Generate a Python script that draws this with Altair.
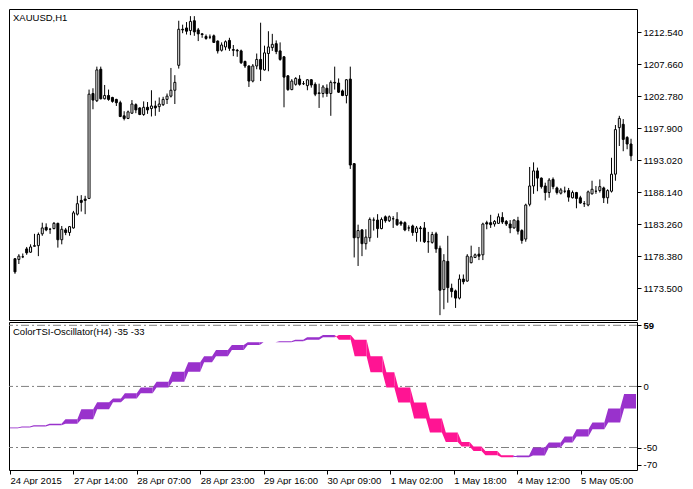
import json
import altair as alt
import pandas as pd

# ---------------- data ----------------
# H1 candles, bar index 0..158 (open, high, low, close)
opens = [1178.0, 1177.9, 1178.3, 1179.5, 1179.0, 1179.9, 1180.0, 1181.8, 1182.8, 1182.5,
         1182.6, 1183.4, 1180.9, 1182.4, 1182.0, 1182.7, 1184.8, 1186.9, 1187.1, 1187.2,
         1203.2, 1202.1, 1206.9, 1202.4, 1202.9, 1202.6, 1202.3, 1201.8, 1199.8, 1199.4,
         1200.2, 1201.5, 1201.0, 1200.0, 1201.1, 1200.9, 1201.3, 1201.2, 1201.5, 1202.3,
         1202.8, 1203.7, 1207.5, 1213.0, 1213.2, 1212.8, 1214.3, 1212.9, 1212.3, 1211.9,
         1211.8, 1212.0, 1211.2, 1209.8, 1210.3, 1211.3, 1209.9, 1209.8, 1209.7, 1208.1,
         1207.4, 1205.1, 1207.4, 1208.4, 1206.8, 1209.3, 1210.2, 1210.8, 1209.7, 1208.8,
         1205.9, 1203.8, 1204.6, 1205.4, 1204.7, 1204.4, 1205.3, 1204.6, 1203.3, 1203.2,
         1204.0, 1203.2, 1204.9, 1204.8, 1203.6, 1202.9, 1205.4, 1192.5, 1181.2, 1182.4,
         1180.3, 1181.2, 1183.9, 1183.9, 1182.6, 1184.4, 1183.8, 1184.1, 1184.0, 1183.6,
         1183.5, 1182.7, 1183.0, 1182.0, 1182.7, 1182.7, 1180.6, 1180.5, 1181.8, 1179.6,
         1173.3, 1177.6, 1173.5, 1173.1, 1172.0, 1174.9, 1174.6, 1177.4, 1178.2, 1178.7,
         1178.6, 1183.5, 1183.5, 1183.3, 1183.4, 1184.3, 1183.7, 1183.3, 1182.7, 1183.8,
         1182.3, 1181.0, 1186.3, 1189.1, 1191.4, 1190.3, 1189.1, 1188.1, 1190.1, 1188.8,
         1188.0, 1188.3, 1188.4, 1187.3, 1188.1, 1187.3, 1186.4, 1186.2, 1187.9, 1188.3,
         1188.4, 1188.8, 1187.3, 1188.3, 1190.9, 1198.0, 1198.5, 1196.5, 1195.5]
highs = [1178.1, 1178.7, 1178.8, 1179.8, 1180.2, 1181.8, 1182.0, 1183.5, 1183.4, 1182.7,
         1183.6, 1183.5, 1183.0, 1182.7, 1183.0, 1185.3, 1187.6, 1187.7, 1187.6, 1203.8,
         1204.0, 1207.3, 1207.3, 1204.5, 1203.8, 1202.7, 1202.4, 1202.1, 1200.5, 1200.6,
         1202.2, 1201.7, 1201.1, 1202.0, 1201.9, 1203.7, 1202.1, 1202.6, 1202.7, 1203.2,
         1207.1, 1206.0, 1214.3, 1213.7, 1214.1, 1215.0, 1215.0, 1213.2, 1212.4, 1212.2,
         1212.2, 1212.2, 1211.3, 1211.0, 1211.3, 1211.7, 1210.6, 1210.0, 1209.9, 1208.2,
         1207.5, 1207.7, 1209.3, 1214.0, 1210.5, 1212.7, 1212.3, 1211.3, 1211.0, 1208.9,
         1206.0, 1205.4, 1205.7, 1206.0, 1205.1, 1205.4, 1205.4, 1204.9, 1204.7, 1204.5,
         1204.6, 1205.2, 1207.3, 1205.5, 1203.8, 1205.4, 1207.3, 1192.6, 1183.2, 1182.5,
         1182.5, 1184.3, 1184.3, 1184.8, 1184.3, 1184.6, 1184.6, 1184.5, 1185.1, 1183.8,
         1183.7, 1183.1, 1183.2, 1183.0, 1183.0, 1183.6, 1182.1, 1182.1, 1182.1, 1180.0,
         1178.7, 1181.5, 1174.2, 1173.3, 1175.6, 1175.6, 1178.7, 1180.0, 1178.8, 1179.8,
         1183.5, 1183.8, 1184.7, 1183.9, 1184.9, 1185.1, 1183.9, 1183.9, 1184.0, 1184.4,
         1182.5, 1186.4, 1192.0, 1192.7, 1191.9, 1190.4, 1189.6, 1190.3, 1190.4, 1189.0,
         1188.8, 1189.0, 1188.8, 1188.4, 1188.2, 1187.6, 1186.8, 1188.4, 1189.9, 1189.1,
         1190.1, 1189.0, 1188.6, 1193.4, 1198.4, 1199.8, 1199.3, 1196.7, 1196.3]
lows = [1175.7, 1177.2, 1178.1, 1178.6, 1178.9, 1179.9, 1178.4, 1181.5, 1182.2, 1181.8,
        1182.5, 1179.7, 1180.2, 1181.6, 1181.5, 1182.6, 1184.6, 1185.2, 1184.8, 1187.1,
        1200.8, 1201.9, 1202.3, 1202.3, 1202.1, 1201.8, 1201.3, 1199.6, 1199.1, 1199.3,
        1200.1, 1200.2, 1199.9, 1199.8, 1200.1, 1199.7, 1199.8, 1200.4, 1201.3, 1201.6,
        1202.6, 1201.6, 1207.0, 1212.4, 1212.2, 1212.1, 1212.0, 1211.2, 1211.7, 1211.4,
        1211.5, 1210.9, 1209.3, 1209.6, 1209.8, 1209.7, 1208.9, 1208.8, 1207.7, 1207.1,
        1204.2, 1204.9, 1206.9, 1205.1, 1206.7, 1206.6, 1209.7, 1209.2, 1208.2, 1201.1,
        1203.6, 1203.7, 1204.4, 1204.4, 1204.5, 1203.7, 1204.1, 1202.8, 1201.0, 1202.6,
        1202.7, 1199.8, 1203.8, 1203.3, 1202.8, 1201.7, 1191.7, 1178.2, 1176.9, 1178.4,
        1179.4, 1180.6, 1182.3, 1181.2, 1182.5, 1183.5, 1183.6, 1182.7, 1183.0, 1183.0,
        1182.2, 1182.2, 1181.5, 1180.6, 1180.6, 1180.4, 1178.9, 1180.3, 1178.9, 1169.4,
        1170.3, 1171.3, 1172.1, 1170.5, 1171.8, 1174.1, 1174.5, 1177.3, 1178.1, 1177.8,
        1177.8, 1182.5, 1182.7, 1182.9, 1183.3, 1183.3, 1183.0, 1181.9, 1182.6, 1181.7,
        1180.3, 1180.6, 1186.0, 1187.9, 1188.3, 1188.7, 1186.9, 1187.3, 1188.6, 1187.8,
        1187.8, 1188.0, 1186.7, 1187.2, 1185.7, 1186.4, 1185.9, 1186.0, 1187.8, 1187.9,
        1188.1, 1186.5, 1186.4, 1188.1, 1189.9, 1195.2, 1194.4, 1194.7, 1192.9]
closes = [1176.0, 1178.4, 1178.3, 1178.9, 1179.8, 1180.0, 1181.7, 1182.7, 1182.4, 1182.5,
          1183.4, 1180.9, 1182.5, 1182.0, 1182.9, 1185.0, 1186.4, 1186.6, 1186.9, 1203.1,
          1202.2, 1206.8, 1202.4, 1202.9, 1202.3, 1202.0, 1201.8, 1199.7, 1199.4, 1200.4,
          1201.6, 1200.7, 1200.0, 1201.1, 1200.7, 1201.3, 1201.0, 1201.6, 1202.3, 1202.8,
          1203.7, 1204.9, 1213.0, 1212.9, 1212.7, 1214.2, 1212.6, 1212.3, 1212.2, 1211.6,
          1211.8, 1211.0, 1209.7, 1210.6, 1211.1, 1210.1, 1209.8, 1209.7, 1207.9, 1207.4,
          1205.1, 1207.4, 1208.4, 1206.9, 1209.4, 1210.3, 1210.7, 1209.6, 1208.4, 1205.7,
          1203.8, 1205.1, 1205.5, 1204.6, 1204.7, 1205.3, 1204.5, 1203.1, 1203.2, 1204.2,
          1203.2, 1204.9, 1204.8, 1203.4, 1202.9, 1205.3, 1192.3, 1181.2, 1182.3, 1180.3,
          1181.3, 1184.0, 1183.9, 1182.6, 1184.0, 1183.8, 1184.4, 1184.1, 1183.2, 1183.3,
          1182.4, 1182.7, 1182.0, 1182.7, 1182.6, 1180.6, 1180.6, 1181.7, 1179.5, 1173.2,
          1177.7, 1173.6, 1173.0, 1172.0, 1174.9, 1174.5, 1178.4, 1178.3, 1178.6, 1178.4,
          1183.3, 1183.3, 1183.2, 1183.7, 1184.4, 1183.6, 1183.3, 1182.7, 1183.9, 1182.2,
          1180.8, 1186.2, 1189.1, 1191.4, 1190.3, 1189.0, 1188.1, 1190.0, 1189.0, 1188.1,
          1188.5, 1188.3, 1187.4, 1188.1, 1187.2, 1186.5, 1186.4, 1188.2, 1188.6, 1188.3,
          1189.0, 1187.3, 1188.4, 1190.9, 1197.7, 1199.4, 1196.2, 1195.5, 1193.7]

price_ticks = [1212.54, 1207.66, 1202.78, 1197.90, 1193.02, 1188.14, 1183.26, 1178.38, 1173.50]
time_tick_bars = [0, 16, 32, 48, 64, 80, 96, 112, 128, 144]
time_tick_labels = ["24 Apr 2015", "27 Apr 14:00", "28 Apr 07:00", "28 Apr 23:00",
                    "29 Apr 16:00", "30 Apr 09:00", "1 May 02:00", "1 May 18:00",
                    "4 May 12:00", "5 May 05:00"]

# H4 oscillator blocks: first H1 bar of each H4 block, TSI value and signal value
block_starts = [0, 3, 6, 10, 14, 18, 22, 26, 29, 33, 37, 41, 45, 49, 52, 56, 60, 64, 68, 72, 75,
                79, 83, 87, 91, 95, 98, 102, 106, 110, 114, 117, 120, 124, 128, 132, 136, 140,
                143, 147, 151, 155]
block_tsi = [-33.6, -32.8, -31.7, -30.5, -26.8, -18.6, -13.0, -9.8, -5.5, -0.8, 3.8, 12.0,
             19.7, 24.6, 29.8, 33.9, 36.1, 36.1, 37.0, 38.2, 40.2, 42.0, 38.2, 24.6, 11.5,
             -0.8, -13.1, -26.2, -37.7, -45.4, -49.2, -52.8, -56.3, -58.0, -56.6, -50.0,
             -45.9, -41.0, -35.0, -29.5, -18.0, -6.3]
block_signal = [-34.3, -33.6, -32.8, -31.7, -30.5, -26.8, -18.6, -13.0, -9.8, -5.5, -0.8,
                3.8, 12.0, 19.7, 24.6, 29.8, 33.9, 36.1, 36.1, 37.0, 38.2, 40.2, 42.0, 38.2,
                24.6, 11.5, -0.8, -13.1, -26.2, -37.7, -45.4, -49.2, -52.8, -56.3, -58.0,
                -56.6, -50.0, -45.9, -41.0, -35.0, -29.5, -18.0]
osc_levels = [50, 0, -50]
osc_tick_values = [50, 0, -50, -64.3]
osc_tick_labels = ["59", "0", "-50", "-70"]

price_title = "XAUUSD,H1"
osc_title = "ColorTSI-Oscillator(H4) -35 -33"

# ---------------- tables ----------------
FONT = "Liberation Sans"
FS = 9.5
n = len(opens)
candles = pd.DataFrame({"bar": list(range(n)), "open": opens, "high": highs,
                        "low": lows, "close": closes})
candles["dir"] = ["up" if c >= o else "down" for o, c in zip(opens, closes)]

rows = []
for k, s in enumerate(block_starts):
    e = block_starts[k + 1] - 1 if k + 1 < len(block_starts) else n - 1
    col = "up" if block_tsi[k] >= block_signal[k] else "down"
    if k > 0:
        rows.append(dict(bar=s - 1, main=block_tsi[k - 1], sig=block_signal[k - 1], blk=k, col=col))
    for b in range(s, e + 1):
        rows.append(dict(bar=b, main=block_tsi[k], sig=block_signal[k], blk=k, col=col))
osc = pd.DataFrame(rows)

# ---------------- scales & axes ----------------
W = 628
x_scale = alt.Scale(domain=[-0.25, 158.25], nice=False, zero=False)
price_scale = alt.Scale(domain=[1168.66, 1216.09], nice=False, zero=False)
osc_scale = alt.Scale(domain=[-68.4, 52.7], nice=False, zero=False)

axis_common = dict(labelFont=FONT, labelFontSize=FS, labelColor="black", tickColor="black",
                   tickSize=4, domain=False, grid=False, title=None, labelOverlap=False)

price_axis = alt.Axis(orient="right", values=price_ticks,
                      labelExpr="format(datum.value, '.3f')", labelPadding=2, **axis_common)

x_labels_expr = f"{json.dumps(time_tick_labels)}[indexof({json.dumps(time_tick_bars)}, datum.value)]"
y_labels_expr = f"{json.dumps(osc_tick_labels)}[indexof({json.dumps(osc_tick_values)}, datum.value)]"

time_axis = alt.Axis(orient="bottom", values=time_tick_bars, labelExpr=x_labels_expr,
                     labelAlign="left", labelBaseline="top", labelPadding=1,
                     labelFlush=False, **axis_common)
osc_axis = alt.Axis(orient="right", values=osc_tick_values, labelExpr=y_labels_expr,
                    labelPadding=2,
                    labelFontWeight={"condition": {"test": "datum.value === 50", "value": "bold"},
                                     "value": "normal"},
                    **axis_common)

# ---------------- price panel ----------------
cbase = alt.Chart(candles)
wicks = cbase.mark_rule(color="black", strokeWidth=1, clip=True).encode(
    x=alt.X("bar:Q", scale=x_scale, axis=None),
    y=alt.Y("low:Q", scale=price_scale, axis=price_axis),
    y2="high:Q",
)
bodies = cbase.mark_bar(width=2, stroke="black", strokeWidth=1, clip=True).encode(
    x=alt.X("bar:Q", scale=x_scale, axis=None),
    y=alt.Y("open:Q", scale=price_scale, axis=price_axis),
    y2="close:Q",
    fill=alt.Fill("dir:N", scale=alt.Scale(domain=["up", "down"], range=["white", "black"]),
                  legend=None),
)
ptitle = alt.Chart(pd.DataFrame({"t": [price_title]})).mark_text(
    align="left", baseline="top", font=FONT, fontSize=FS, color="black"
).encode(text="t:N", x=alt.value(4), y=alt.value(4))

price_panel = alt.layer(wicks, bodies, ptitle).properties(width=W, height=311)

# ---------------- oscillator panel ----------------
levels = alt.Chart(pd.DataFrame({"lvl": osc_levels})).mark_rule(
    color="#808080", strokeWidth=1, strokeDash=[8, 3, 2, 3]
).encode(y=alt.Y("lvl:Q", scale=osc_scale, axis=osc_axis))

band = alt.Chart(osc).mark_area(interpolate="linear", clip=True, opacity=1).encode(
    x=alt.X("bar:Q", scale=x_scale, axis=time_axis),
    y=alt.Y("main:Q", scale=osc_scale, axis=osc_axis),
    y2="sig:Q",
    color=alt.Color("col:N", scale=alt.Scale(domain=["up", "down"],
                                             range=["#9932CC", "#FF1493"]), legend=None),
    detail="blk:N",
)
otitle = alt.Chart(pd.DataFrame({"t": [osc_title]})).mark_text(
    align="left", baseline="top", font=FONT, fontSize=FS, color="black"
).encode(text="t:N", x=alt.value(4), y=alt.value(5))

osc_panel = alt.layer(levels, band, otitle).properties(width=W, height=148)

chart = alt.vconcat(price_panel, osc_panel, spacing=2, bounds="flush").properties(
    padding={"left": 0, "top": 0, "right": 0, "bottom": 0},
    background="white",
).configure_view(stroke="black", strokeWidth=1).configure_axis(
    labelOverlap=False
).resolve_scale(x="independent")

chart.save("out.html", embed_options={"renderer": "svg", "actions": False})
